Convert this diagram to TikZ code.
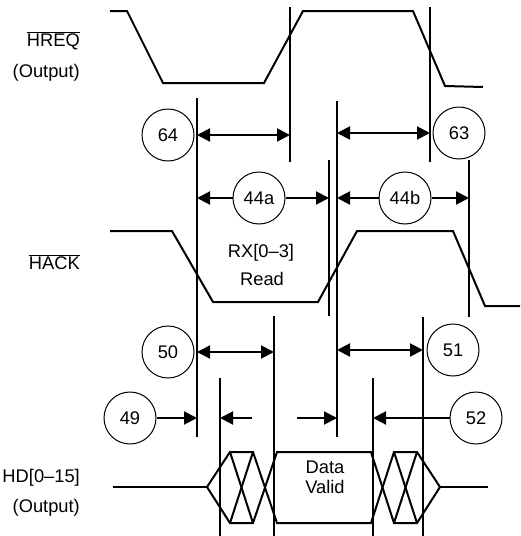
\documentclass[tikz,border=0pt]{standalone}
\usepackage{fontspec}
\setmainfont{Liberation Sans}
\usetikzlibrary{arrows.meta}
\begin{document}
\begin{tikzpicture}[x=1pt,y=-1pt,
  >={Triangle[length=13pt,width=13pt]},
  wave/.style={line width=2pt},
  vline/.style={line width=2pt},
  dimline/.style={line width=2pt},
  num/.style={draw,circle,line width=1pt,minimum size=52pt,inner sep=0pt,
    font=\fontsize{18.3}{22}\selectfont},
  lbl/.style={inner sep=0pt,anchor=base east,font=\fontsize{18.3}{22}\selectfont},
  ctext/.style={inner sep=0pt,anchor=base,font=\fontsize{18.3}{22}\selectfont}]
\useasboundingbox (0,0) rectangle (520,536);

% labels
\node[lbl] (lhreq) at (80,46) {$\overline{\hbox{HREQ}}$};
\node[lbl] (lout1) at (80,77) {(Output)};
\node[lbl] (lhack) at (80,269) {$\overline{\hbox{HACK}}$};
\node[lbl] (lhd) at (80,482) {HD[0–15]};
\node[lbl] (lout2) at (80,512) {(Output)};
\node[ctext] (lrx) at (261,257) {RX[0–3]};
\node[ctext] (lread) at (262,285) {Read};
\node[ctext] (ldata) at (325,473) {Data};
\node[ctext] (lvalid) at (325,493) {Valid};

% waveforms
\draw[wave] (110,11) -- (127,11) -- (163,83) -- (264,83) -- (303,11) -- (413,11) -- (445,86) -- (483,87);
\draw[wave] (110,231) -- (172,231) -- (213,302) -- (318,302) -- (357,231) -- (453,231) -- (485,306) -- (520,306);
% HD bus
\draw[wave] (113,487) -- (207,487);
\draw[wave] (207,487) -- (230,452) -- (253,452) -- (277,523) -- (371,523) -- (394,452) -- (417,452) -- (440,487);
\draw[wave] (207,487) -- (230,523) -- (253,523) -- (277,452) -- (371,452) -- (394,523) -- (417,523) -- (440,487);
\draw[wave] (230,452) -- (253,523);
\draw[wave] (230,523) -- (253,452);
\draw[wave] (394,452) -- (417,523);
\draw[wave] (394,523) -- (417,452);
\draw[wave] (440,487) -- (488,487);

% vertical reference lines
\coordinate (v1t) at (197,98);   \coordinate (v1b) at (197,437);
\coordinate (v2t) at (290,7);    \coordinate (v2b) at (290,162);
\coordinate (v3t) at (430,7);    \coordinate (v3b) at (430,162);
\coordinate (v4t) at (337,101);  \coordinate (v4b) at (337,437);
\coordinate (v5t) at (329,160);  \coordinate (v5b) at (329,316);
\coordinate (v6t) at (469,160);  \coordinate (v6b) at (469,317);
\coordinate (v7t) at (274,316);  \coordinate (v7b) at (274,536);
\coordinate (v8t) at (423,317);  \coordinate (v8b) at (423,536);
\coordinate (v9t) at (220,378);  \coordinate (v9b) at (220,536);
\coordinate (v10t) at (373,378); \coordinate (v10b) at (373,536);
\foreach \v in {v1,v2,v3,v4,v5,v6,v7,v8,v9,v10}
  \draw[vline] (\v t) -- (\v b);

% timing circles
\node[num] (c64) at (168,135) {64};
\node[num] (c63) at (459,133) {63};
\node[num] (c44a) at (259,198) {44a};
\node[num] (c44b) at (405,198) {44b};
\node[num] (c50) at (168,352) {50};
\node[num] (c51) at (453,350) {51};
\node[num] (c49) at (130,418) {49};
\node[num] (c52) at (476,418) {52};
\coordinate (f49) at (252,418);
\coordinate (f52) at (297,418);

% dimension arrows
\draw[dimline,<->] (v1t |- c64) -- (v2t |- c64);
\draw[dimline,<->] (v4t |- c63) -- (v3t |- c63);
\draw[dimline,->] (c44a) -- (v1t |- c44a);
\draw[dimline,->] (c44a) -- (v5t |- c44a);
\draw[dimline,->] (c44b) -- (v4t |- c44b);
\draw[dimline,->] (c44b) -- (v6t |- c44b);
\draw[dimline,<->] (v1t |- c50) -- (v7t |- c50);
\draw[dimline,<->] (v4t |- c51) -- (v8t |- c51);
\draw[dimline,->] (c49) -- (v1t |- c49);
\draw[dimline,->] (f49) -- (v9t |- f49);
\draw[dimline,->] (c52) -- (v10t |- c52);
\draw[dimline,->] (f52) -- (v4t |- f52);
\end{tikzpicture}
\end{document}
